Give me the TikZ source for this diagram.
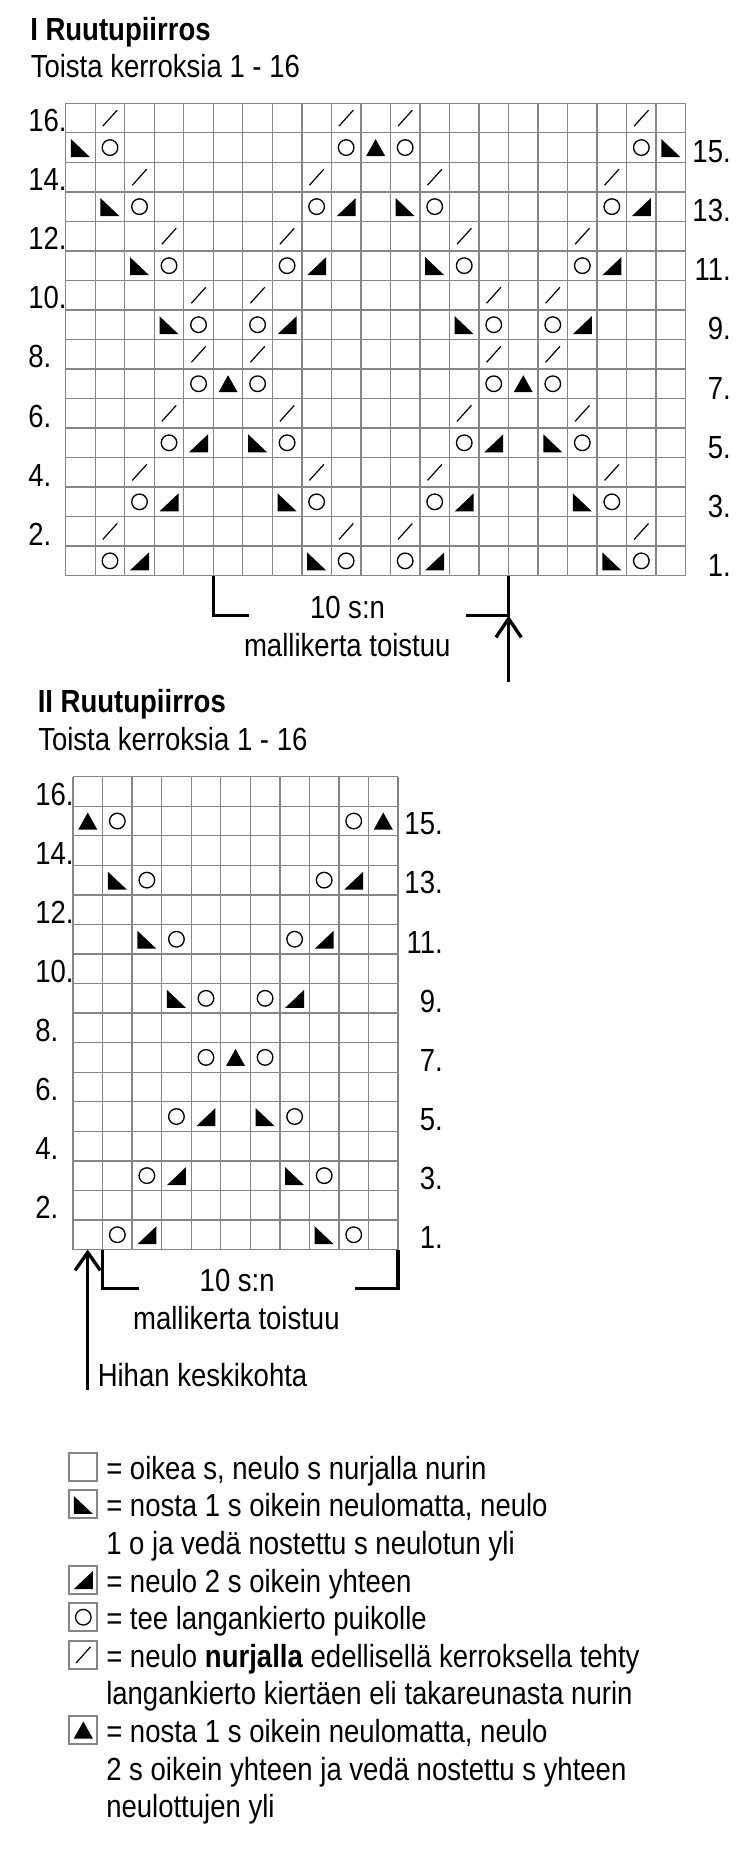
\documentclass[tikz,border=0pt]{standalone}
\usepackage{fontspec}
\setmainfont{Liberation Sans}[FakeStretch=0.86]
\usetikzlibrary{arrows.meta, positioning}
\definecolor{rule}{HTML}{858585}
\definecolor{ink}{HTML}{000000}
\newcommand{\chartfont}{\fontsize{24}{28.2}\selectfont}

\tikzset{
  cell/.style={draw=rule, line width=1pt},
  keybox/.style={draw=rule, line width=1.5pt, minimum size=21pt, inner sep=0pt},
  txt/.style={anchor=base west, inner sep=0pt},
  ctxt/.style={anchor=base, inner sep=0pt},
  rnum/.style={anchor=base east, inner sep=0pt},
  bracket/.style={ink, line width=2.5pt},
  yo/.pic={\draw[ink, line width=1pt] (0,0) circle (5.85pt);},
  ssk/.pic={\fill[ink] (-9.5,-8.5) -- (-9.5,9.5) -- (9.5,9.5) -- cycle;},
  ktog/.pic={\fill[ink] (-9.5,9.5) -- (9.5,9.5) -- (9.5,-8.5) -- cycle;},
  cdd/.pic={\fill[ink] (0,-8.5) -- (-9.5,8.5) -- (9.5,8.5) -- cycle;},
  tbl/.pic={\draw[ink, line width=0.9pt] (-7.2,8.1) -- (7.2,-7.9);}
}

\begin{document}
\begin{tikzpicture}[x=0.75pt, y=-0.75pt, font=\chartfont]
  \path[fill=white] (0,0) rectangle (756,1860);
  \useasboundingbox (0,0) rectangle (756,1860);

  % ---- chart I ----
  \node[txt] (t1) at (30,40) {\bfseries I Ruutupiirros};
  \node[txt] (s1) at (30.5,77.5) {Toista kerroksia 1 - 16};
  \foreach \cx in {0,...,21}
    \draw[cell] ({65.7+\cx*29.52},103.3) -- ({65.7+\cx*29.52},575.6);
  \foreach \ry in {0,...,16}
    \draw[cell] (65.7,{103.3+\ry*29.52}) -- (685.6,{103.3+\ry*29.52});
  \foreach \cx in {1,...,21}
    \foreach \ry in {1,...,16}
      \coordinate (a\cx-\ry) at ({65.7+(\cx-0.5)*29.52},{103.3+(16.5-\ry)*29.52});
  \foreach \ry in {2,4,...,16}
    \node[txt] (al\ry) at (28,{103.3+(17-\ry)*29.52-1}) {\ry.};
  \foreach \ry in {1,3,...,15}
    \node[rnum] (ar\ry) at (731,{103.3+(17-\ry)*29.52+0.5}) {\ry.};

  % eyelets, twisted purl on the row above
  \foreach \cx/\ry in {2/15,10/15,12/15,20/15, 3/13,9/13,13/13,19/13,
                       4/11,8/11,14/11,18/11, 5/9,7/9,15/9,17/9,
                       5/7,7/7,15/7,17/7, 4/5,8/5,14/5,18/5,
                       3/3,9/3,13/3,19/3, 2/1,10/1,12/1,20/1}{
    \pgfmathtruncatemacro{\up}{\ry+1}
    \pic at (a\cx-\ry) {yo};
    \pic at (a\cx-\up) {tbl};
  }
  \foreach \cx/\ry in {1/15,21/15, 2/13,12/13, 3/11,13/11, 4/9,14/9,
                       7/5,17/5, 8/3,18/3, 9/1,19/1}
    \pic at (a\cx-\ry) {ssk};
  \foreach \cx/\ry in {10/13,20/13, 9/11,19/11, 8/9,18/9,
                       5/5,15/5, 4/3,14/3, 3/1,13/1}
    \pic at (a\cx-\ry) {ktog};
  \foreach \cx/\ry in {11/15, 6/7, 16/7}
    \pic at (a\cx-\ry) {cdd};

  \coordinate (b1) at (213.4,575.6);
  \coordinate (b2) at (213.4,615.7);
  \coordinate (b3) at (249.3,615.7);
  \coordinate (b4) at (466,615.7);
  \coordinate (b5) at (508.6,615.7);
  \coordinate (b6) at (508.6,575.6);
  \coordinate (b7) at (508.6,681.7);
  \draw[bracket] (b1) -- (b2) -- (b3);
  \draw[bracket] (b4) -- (b5) -- (b6);
  \draw[bracket, -{Straight Barb[sharp, length=14pt, width=19pt]}] (b7) -- (b5);
  \node[ctxt] (r1) at (347.5,618.3) {10 s:n};
  \node[ctxt] (m1) at (347.3,656.7) {mallikerta toistuu};

  % ---- chart II ----
  \node[txt] (t2) at (37.5,712.7) {\bfseries II Ruutupiirros};
  \node[txt] (s2) at (38,750) {Toista kerroksia 1 - 16};
  \foreach \cx in {0,...,11}
    \draw[cell] ({73+\cx*29.55},776.7) -- ({73+\cx*29.55},1249.5);
  \foreach \ry in {0,...,16}
    \draw[cell] (73,{776.7+\ry*29.55}) -- (398.05,{776.7+\ry*29.55});
  \foreach \cx in {1,...,11}
    \foreach \ry in {1,...,16}
      \coordinate (b\cx-\ry) at ({73+(\cx-0.5)*29.55},{776.7+(16.5-\ry)*29.55});
  \foreach \ry in {2,4,...,16}
    \node[txt] (bl\ry) at (35,{776.7+(17-\ry)*29.55-1}) {\ry.};
  \foreach \ry in {1,3,...,15}
    \node[rnum] (br\ry) at (443,{776.7+(17-\ry)*29.55-1}) {\ry.};

  \foreach \cx/\ry in {2/15,10/15, 3/13,9/13, 4/11,8/11, 5/9,7/9,
                       5/7,7/7, 4/5,8/5, 3/3,9/3, 2/1,10/1}
    \pic at (b\cx-\ry) {yo};
  \foreach \cx/\ry in {2/13, 3/11, 4/9, 7/5, 8/3, 9/1}
    \pic at (b\cx-\ry) {ssk};
  \foreach \cx/\ry in {10/13, 9/11, 8/9, 5/5, 4/3, 3/1}
    \pic at (b\cx-\ry) {ktog};
  \foreach \cx/\ry in {1/15, 11/15, 6/7}
    \pic at (b\cx-\ry) {cdd};

  \coordinate (c0) at (87.7,1390);
  \coordinate (c1) at (87.7,1249.5);
  \coordinate (c2) at (102.55,1249.5);
  \coordinate (c3) at (102.55,1288.3);
  \coordinate (c4) at (139.3,1288.3);
  \coordinate (c5) at (355,1288.3);
  \coordinate (c6) at (398.05,1288.3);
  \coordinate (c7) at (398.05,1249.5);
  \draw[bracket, -{Straight Barb[sharp, length=13.5pt, width=19pt]}] (c0) -- (c1);
  \draw[bracket] (c2) -- (c3) -- (c4);
  \draw[bracket] (c5) -- (c6) -- (c7);
  \node[ctxt] (r2) at (237.2,1291.7) {10 s:n};
  \node[ctxt] (m2) at (236.4,1329.3) {mallikerta toistuu};
  \node[txt] (h2) at (97.5,1386.7) {Hihan keskikohta};

  % ---- key ----
  \node[keybox] (k1) at (83.3,1466.8) {};
  \node[keybox] (k2) at (83.3,1504.4) {};
  \node[keybox] (k3) at (83.3,1579.6) {};
  \node[keybox] (k4) at (83.3,1617.2) {};
  \node[keybox] (k5) at (83.3,1654.8) {};
  \node[keybox] (k6) at (83.3,1730.0) {};
  \pic at (k2.center) {ssk};
  \pic at (k3.center) {ktog};
  \pic at (k4.center) {yo};
  \pic at (k5.center) {tbl};
  \pic at (k6.center) {cdd};

  \node[txt] (e1) at (106,1479.3) {= oikea s, neulo s nurjalla nurin};
  \node[txt] (e2) at (106,1516.9) {= nosta 1 s oikein neulomatta, neulo};
  \node[txt] (e2b) at (106,1554.5) {1 o ja vedä nostettu s neulotun yli};
  \node[txt] (e3) at (106,1592.1) {= neulo 2 s oikein yhteen};
  \node[txt] (e4) at (106,1629.7) {= tee langankierto puikolle};
  \node[txt] (e5) at (106,1667.3) {= neulo \textbf{nurjalla} edellisellä kerroksella tehty};
  \node[txt] (e5b) at (106,1704.9) {langankierto kiertäen eli takareunasta nurin};
  \node[txt] (e6) at (106,1742.5) {= nosta 1 s oikein neulomatta, neulo};
  \node[txt] (e6b) at (106,1780.1) {2 s oikein yhteen ja vedä nostettu s yhteen};
  \node[txt] (e6c) at (106,1817.7) {neulottujen yli};
\end{tikzpicture}
\end{document}
